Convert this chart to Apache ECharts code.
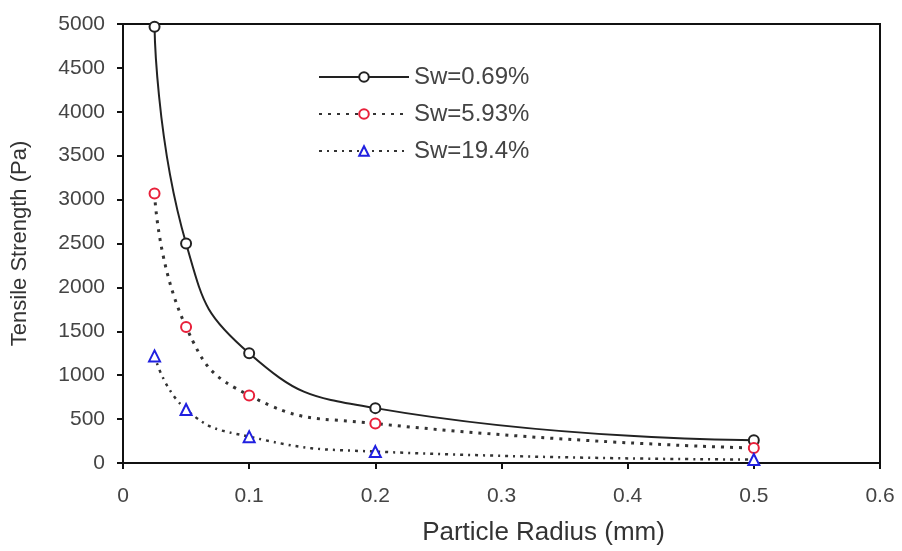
<!DOCTYPE html>
<html><head><meta charset="utf-8">
<script src="https://cdn.jsdelivr.net/npm/echarts@6/dist/echarts.min.js"></script>
<style>html,body{margin:0;padding:0;background:#fff}#c{width:902px;height:551px}</style>
</head><body><div id="c"></div>
<script>
var radius = [0.025, 0.05, 0.1, 0.2, 0.5];
var sw069 = [4970, 2500, 1250, 625, 260];
var sw593 = [3070, 1550, 770, 450, 170];
var sw194 = [1220, 610, 300, 130, 40];
var names = ['Sw=0.69%', 'Sw=5.93%', 'Sw=19.4%'];

function pairs(v){ return radius.map(function(r,i){ return [r, v[i]]; }); }

var chart = echarts.init(document.getElementById('c'));
var font = 'Liberation Sans, Arial, sans-serif';
chart.setOption({
  animation:false,
  backgroundColor:'#fff',
  grid:{left:123, right:22, top:24, bottom:84, show:true, borderColor:'#111', borderWidth:2, backgroundColor:'transparent'},
  legend:{
    orient:'vertical', left:318, top:65, padding:0, itemWidth:90, itemHeight:12, itemGap:13,
    textStyle:{fontFamily:font, fontSize:24, color:'#444'},
    data:names
  },
  xAxis:{
    type:'value', min:0, max:0.6, interval:0.1,
    name:'Particle Radius (mm)', nameLocation:'middle', nameGap:57,
    nameTextStyle:{fontFamily:font, fontSize:26, color:'#333', padding:[0,0,0,84]},
    axisLine:{show:true, lineStyle:{color:'#111', width:2}},
    axisTick:{show:true, inside:false, length:6, lineStyle:{color:'#111', width:2}},
    axisLabel:{fontFamily:font, fontSize:21, color:'#444', margin:23, formatter:function(v){return v===0?'0':String(+v.toFixed(1));}},
    splitLine:{show:false}
  },
  yAxis:{
    type:'value', min:0, max:5000, interval:500,
    name:'Tensile Strength (Pa)', nameLocation:'middle', nameGap:92,
    nameTextStyle:{fontFamily:font, fontSize:22, color:'#333'},
    axisLine:{show:true, lineStyle:{color:'#111', width:2}},
    axisTick:{show:true, length:6, lineStyle:{color:'#111', width:2}},
    axisLabel:{fontFamily:font, fontSize:21, color:'#444', margin:18, formatter:function(v){return String(v);}},
    splitLine:{show:false}
  },
  series:[
    {name:names[0], type:'line', smooth:0.5, data:pairs(sw069),
     symbol:'emptyCircle', symbolSize:10,
     lineStyle:{color:'#222', width:2, type:'solid'},
     itemStyle:{color:'#222', borderColor:'#222', borderWidth:2}},
    {name:names[1], type:'line', smooth:0.5, data:pairs(sw593),
     symbol:'emptyCircle', symbolSize:10,
     lineStyle:{color:'#333', width:3, type:[3,6]},
     itemStyle:{color:'#e8203a', borderColor:'#e8203a', borderWidth:2.5}},
    {name:names[2], type:'line', smooth:0.5, data:pairs(sw194),
     symbol:'emptyTriangle', symbolSize:11,
     lineStyle:{color:'#333', width:2.5, type:[3,5,2,5]},
     itemStyle:{color:'#2020e0', borderColor:'#2020e0', borderWidth:2}}
  ]
});
</script></body></html>
